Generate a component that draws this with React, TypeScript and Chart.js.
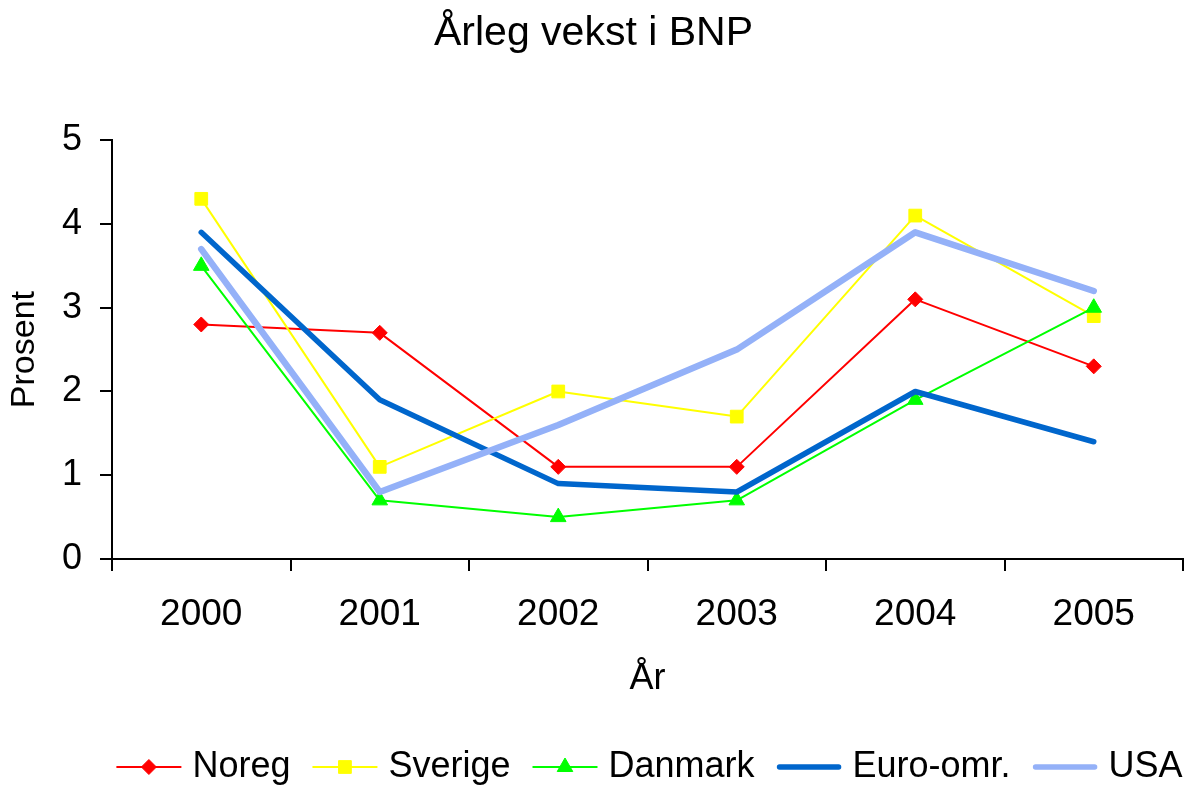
import React, { useEffect, useRef } from 'react';
import { Chart, registerables } from 'chart.js';

Chart.register(...registerables);

const years = ['2000', '2001', '2002', '2003', '2004', '2005'];
const noreg = [2.8, 2.7, 1.1, 1.1, 3.1, 2.3];
const sverige = [4.3, 1.1, 2.0, 1.7, 4.1, 2.9];
const danmark = [3.5, 0.7, 0.5, 0.7, 1.9, 3.0];
const euro = [3.9, 1.9, 0.9, 0.8, 2.0, 1.4];
const usa = [3.7, 0.8, 1.6, 2.5, 3.9, 3.2];
const yTicks = [0, 1, 2, 3, 4, 5];
const seriesNames = ['Noreg', 'Sverige', 'Danmark', 'Euro-omr.', 'USA'];
const titleText = 'Årleg vekst i BNP';
const xTitle = 'År';
const yTitle = 'Prosent';

const FONT = '"Liberation Sans", Arial, sans-serif';

function drawMarker(ctx: CanvasRenderingContext2D, style: string, x: number, y: number, r: number, color: string) {
  ctx.save();
  ctx.fillStyle = color;
  ctx.strokeStyle = color;
  ctx.lineWidth = 1;
  ctx.beginPath();
  if (style === 'rectRot') {
    ctx.moveTo(x, y - r);
    ctx.lineTo(x + r, y);
    ctx.lineTo(x, y + r);
    ctx.lineTo(x - r, y);
    ctx.closePath();
  } else if (style === 'rect') {
    const s = r * Math.SQRT1_2;
    ctx.rect(x - s, y - s, 2 * s, 2 * s);
  } else if (style === 'triangle') {
    const a = (2 * Math.PI) / 3;
    ctx.moveTo(x, y - r);
    ctx.lineTo(x + Math.sin(a) * r, y - Math.cos(a) * r);
    ctx.lineTo(x + Math.sin(2 * a) * r, y - Math.cos(2 * a) * r);
    ctx.closePath();
  } else {
    ctx.restore();
    return;
  }
  ctx.fill();
  ctx.stroke();
  ctx.restore();
}

const customLegend = {
  id: 'customLegend',
  afterDraw(chart: any) {
    const ctx: CanvasRenderingContext2D = chart.ctx;
    const area = chart.chartArea;
    const lineLen = 65;
    const gapText = 11;
    const gapItem = 22;
    const y = 767;
    ctx.save();
    ctx.font = `36px ${FONT}`;
    const items = chart.data.datasets.map((ds: any) => ({
      ds,
      w: ctx.measureText(ds.label).width,
    }));
    const total =
      items.reduce((s: number, it: any) => s + lineLen + gapText + it.w, 0) + gapItem * (items.length - 1);
    let x = (area.left + area.right) / 2 - total / 2 + 2;
    items.forEach((it: any) => {
      const ds = it.ds;
      const thick = ds.borderWidth > 3;
      ctx.save();
      ctx.strokeStyle = ds.borderColor;
      ctx.lineWidth = thick ? 5.5 : 2;
      ctx.lineCap = thick ? 'round' : 'butt';
      ctx.beginPath();
      ctx.moveTo(x + (thick ? 3 : 0), y);
      ctx.lineTo(x + lineLen - (thick ? 3 : 0), y);
      ctx.stroke();
      ctx.restore();
      if (ds.pointRadius > 0) {
        drawMarker(ctx, ds.pointStyle, x + lineLen / 2, y, ds.pointRadius, ds.borderColor);
      }
      ctx.fillStyle = '#000';
      ctx.textAlign = 'left';
      ctx.textBaseline = 'middle';
      ctx.fillText(ds.label, x + lineLen + gapText, y);
      x += lineLen + gapText + it.w + gapItem;
    });
    ctx.restore();
  },
};

export default function App() {
  const ref = useRef<HTMLCanvasElement | null>(null);

  useEffect(() => {
    document.body.style.margin = '0';
    const canvas = ref.current;
    if (!canvas) return;
    Chart.defaults.font.family = FONT;
    Chart.defaults.color = '#000';

    const common = {
      fill: false,
      tension: 0,
      borderCapStyle: 'round',
      borderJoinStyle: 'round',
      pointBorderWidth: 1,
      pointHoverRadius: 0,
    };

    const chart = new Chart(canvas, {
      type: 'line',
      data: {
        labels: years,
        datasets: [
          {
            ...common,
            label: seriesNames[0],
            data: noreg,
            borderColor: '#FF0000',
            backgroundColor: '#FF0000',
            borderWidth: 2,
            pointStyle: 'rectRot',
            pointRadius: 7.5,
            order: 5,
          },
          {
            ...common,
            label: seriesNames[1],
            data: sverige,
            borderColor: '#FFFF00',
            backgroundColor: '#FFFF00',
            borderWidth: 2,
            pointStyle: 'rect',
            pointRadius: 9,
            order: 4,
          },
          {
            ...common,
            label: seriesNames[2],
            data: danmark,
            borderColor: '#00FF00',
            backgroundColor: '#00FF00',
            borderWidth: 2,
            pointStyle: 'triangle',
            pointRadius: 9,
            order: 3,
          },
          {
            ...common,
            label: seriesNames[3],
            data: euro,
            borderColor: '#0066CC',
            backgroundColor: '#0066CC',
            borderWidth: 5.5,
            pointRadius: 0,
            order: 2,
          },
          {
            ...common,
            label: seriesNames[4],
            data: usa,
            borderColor: '#94B1F8',
            backgroundColor: '#94B1F8',
            borderWidth: 6.5,
            pointRadius: 0,
            order: 1,
          },
        ] as any,
      },
      options: {
        responsive: false,
        animation: false,
        devicePixelRatio: 1,
        layout: { padding: { left: 0, right: 6, top: 0, bottom: 80 } },
        plugins: {
          legend: { display: false },
          tooltip: { enabled: false },
          title: {
            display: true,
            text: titleText,
            color: '#000',
            font: { family: FONT, size: 41, weight: 'normal' },
            padding: { top: 9, bottom: 82 },
          },
        },
        scales: {
          x: {
            type: 'category',
            offset: true,
            grid: {
              display: true,
              drawOnChartArea: false,
              drawTicks: true,
              tickLength: 12,
              color: '#000',
              lineWidth: 2,
              offset: true,
            },
            border: { display: true, color: '#000', width: 2 },
            ticks: {
              color: '#000',
              font: { family: FONT, size: 37 },
              padding: 22,
              maxRotation: 0,
              autoSkip: false,
            },
            title: {
              display: true,
              text: xTitle,
              color: '#000',
              font: { family: FONT, size: 36 },
              padding: { top: 0, bottom: 8 },
            },
            afterFit: (s: any) => {
              s.height = 150;
            },
          },
          y: {
            min: yTicks[0],
            max: yTicks[yTicks.length - 1],
            afterBuildTicks: (s: any) => {
              s.ticks = yTicks.map((v) => ({ value: v }));
            },
            grid: {
              display: true,
              drawOnChartArea: false,
              drawTicks: true,
              tickLength: 12,
              color: '#000',
              lineWidth: 2,
            },
            border: { display: true, color: '#000', width: 2 },
            ticks: {
              color: '#000',
              font: { family: FONT, size: 36 },
              padding: 18,
            },
            title: {
              display: true,
              text: yTitle,
              color: '#000',
              font: { family: FONT, size: 34 },
              padding: { top: 4, bottom: 0 },
            },
            afterFit: (s: any) => {
              s.width = 112;
            },
          },
        },
      } as any,
      plugins: [customLegend],
    });

    return () => {
      chart.destroy();
    };
  }, []);

  return (
    <div style={{ width: 1193, height: 789, position: 'relative' }}>
      <canvas ref={ref} width={1193} height={789} style={{ width: 1193, height: 789, display: 'block' }} />
    </div>
  );
}
